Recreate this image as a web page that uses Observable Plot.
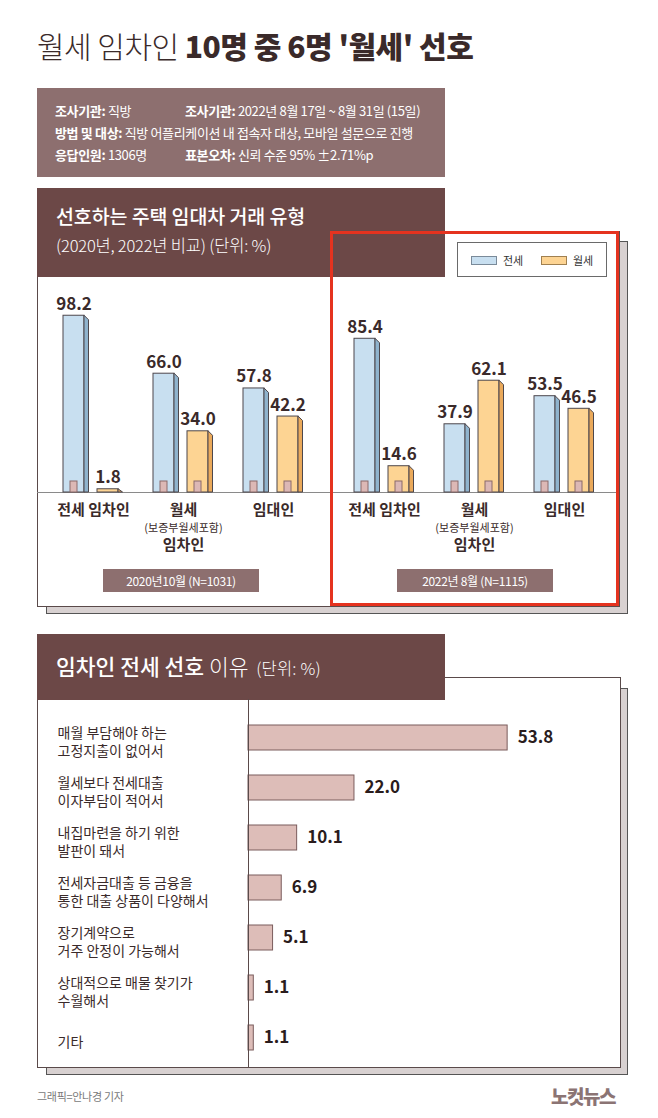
<!DOCTYPE html>
<html><head><meta charset="utf-8">
<script src="https://cdn.jsdelivr.net/npm/d3@7"></script>
<script src="https://cdn.jsdelivr.net/npm/@observablehq/plot@0.6"></script>
<style>
body{margin:0;background:#fff;font-family:"Noto Sans CJK KR","Noto Sans",sans-serif;}
#page{position:relative;width:658px;height:1118px;overflow:hidden;background:#fff;color:#3a2a2a}
.abs{position:absolute;box-sizing:border-box;white-space:nowrap}
.info{color:#fff;font-size:13px;line-height:17px;letter-spacing:-0.35px}
.info b{font-weight:700}
</style></head><body><div id="page"></div>
<script>
// ---------- data ----------
const categories = ["전세 임차인", "월세 임차인", "임대인"];
const catMain = ["전세 임차인", "월세", "임대인"];
const catSub = ["", "(보증부월세포함)", ""];
const catSub2 = ["", "임차인", ""];
const types = ["전세", "월세"];
const years = ["2020", "2022"];
const yearLabels = ["2020년10월 (N=1031)", "2022년 8월 (N=1115)"];
const jeonse2020 = [98.2, 66.0, 57.8];
const wolse2020 = [1.8, 34.0, 42.2];
const jeonse2022 = [85.4, 37.9, 53.5];
const wolse2022 = [14.6, 62.1, 46.5];
const reasons = ["매월 부담해야 하는\n고정지출이 없어서", "월세보다 전세대출\n이자부담이 적어서", "내집마련을 하기 위한\n발판이 돼서", "전세자금대출 등 금융을\n통한 대출 상품이 다양해서", "장기계약으로\n거주 안정이 가능해서", "상대적으로 매물 찾기가\n수월해서", "기타"];
const reasonValues = [53.8, 22.0, 10.1, 6.9, 5.1, 1.1, 1.1];
const infoLeft = [["조사기관:", "직방"], ["방법 및 대상:", "직방 어플리케이션 내 접속자 대상, 모바일 설문으로 진행"], ["응답인원:", "1306명"]];
const infoRight = [["조사기관:", "2022년 8월 17일 ~ 8월 31일 (15일)"], null, ["표본오차:", "신뢰 수준 95% ±2.71%p"]];

// ---------- styles ----------
const C = {
  dark: "#3a2a2a", header: "#6c4847", mauve: "#8d6f6f", red: "#e5331f",
  blue: "#c8dff0", blueSide: "#8fb3cd", orange: "#fdd493", orangeSide: "#eaa95a",
  barStroke: "#4d474c", door: "#dcb8b5", doorStroke: "#8a6a6a",
  bar2: "#ddbdb8", bar2Stroke: "#7a5c5c", shadow: "#d8d1d1", frame: "#5a4a4a"
};
const FONT = '"Noto Sans CJK KR","Noto Sans",sans-serif';
const page = document.getElementById("page");
function box(css, html) {
  const d = document.createElement("div");
  d.className = "abs";
  Object.assign(d.style, css);
  if (html != null) d.innerHTML = html;
  page.appendChild(d);
  return d;
}

// ---------- title ----------
box({left: "37px", top: "27px", fontSize: "30px", lineHeight: "36px", color: C.dark, letterSpacing: "-0.5px"},
  '<span style="font-weight:300">월세 임차인 </span><span style="font-weight:900">10명 중 6명 \'월세\' 선호</span>');

// ---------- info box ----------
box({left: "37px", top: "88px", width: "408px", height: "89px", background: C.mauve});
const lineCenters = [110, 132, 154];
infoLeft.forEach((r, i) => box({left: "55px", top: (lineCenters[i] - 8.5) + "px"}, `<b>${r[0]}</b> ${r[1]}`).classList.add("info"));
infoRight.forEach((r, i) => { if (r) box({left: "185px", top: (lineCenters[i] - 8.5) + "px"}, `<b>${r[0]}</b> ${r[1]}`).classList.add("info"); });

// ---------- chart 1 frames ----------
box({left: "46px", top: "241px", width: "582px", height: "373px", background: C.shadow, border: "1px solid #555"});
box({left: "37px", top: "231px", width: "583px", height: "376px", background: "#fff", border: "1px solid " + C.frame});
box({left: "37px", top: "188px", width: "408px", height: "89px", background: C.header});
box({left: "56px", top: "203px", fontSize: "19.5px", lineHeight: "26px", color: "#fff", fontWeight: 500, letterSpacing: "-0.1px"}, "선호하는 주택 임대차 거래 유형");
box({left: "56px", top: "234px", fontSize: "16.5px", lineHeight: "22px", color: "#fff", fontWeight: 300, letterSpacing: "-0.2px"}, "(2020년, 2022년 비교) (단위: %)");

// ---------- chart 1 data ----------
const rent = [];
[[jeonse2020, wolse2020], [jeonse2022, wolse2022]].forEach(([j, w], yi) => categories.forEach((c, ci) => {
  rent.push({year: years[yi], cat: c, type: types[0], value: j[ci]});
  rent.push({year: years[yi], cat: c, type: types[1], value: w[ci]});
}));
const catLabelData = [];
years.forEach(y => categories.forEach((c, ci) => catLabelData.push({year: y, cat: c, main: catMain[ci], sub: catSub[ci], sub2: catSub2[ci]})));
const subLabelData = catLabelData.filter(d => d.sub);
const jeonseData = rent.filter(d => d.type === types[0]);
const wolseData = rent.filter(d => d.type === types[1]);

const SIDE = 4.5;
const BAR = {
  [types[0]]: {insetLeft: 0, insetRight: 39, fill: C.blue, side: C.blueSide, dx: -19.5},
  [types[1]]: {insetLeft: 34, insetRight: 5, fill: C.orange, side: C.orangeSide, dx: 14.5}
};
function fronts(data, t) {
  const o = BAR[t];
  return Plot.barY(data, {fx: "year", x: "cat", y: "value", insetLeft: o.insetLeft, insetRight: o.insetRight, fill: o.fill, stroke: C.barStroke, strokeWidth: 1});
}
function details(data, t) {
  const o = BAR[t];
  return Plot.barY(data, {
    fx: "year", x: "cat", y: "value", insetLeft: o.insetLeft, insetRight: o.insetRight,
    render(index, scales, values) {
      const bw = scales.x.bandwidth();
      const g = d3.create("svg:g");
      for (const i of index) {
        const x1 = values.x[i] + o.insetLeft;
        const x2 = values.x[i] + bw - o.insetRight;
        const top = Math.min(values.y1[i], values.y2[i]);
        const base = Math.max(values.y1[i], values.y2[i]);
        g.append("path")
          .attr("d", `M${x2},${top}L${x2 + SIDE},${Math.min(top + SIDE, base)}L${x2 + SIDE},${base}L${x2},${base}Z`)
          .attr("fill", o.side).attr("stroke", C.barStroke).attr("stroke-linejoin", "round");
        if (base - top > 16) {
          const cx = (x1 + x2) / 2;
          g.append("rect").attr("x", cx - 3.5).attr("y", base - 11).attr("width", 7).attr("height", 11)
            .attr("fill", C.door).attr("stroke", C.doorStroke);
        }
      }
      return g.node();
    }
  });
}
function values(data, t) {
  return Plot.text(data, {fx: "year", x: "cat", y: "value", text: d => d.value.toFixed(1), dx: BAR[t].dx, dy: -6, lineAnchor: "bottom", fontSize: 17, fontWeight: 700, fill: C.dark});
}

const chart1 = Plot.plot({
  width: 582, height: 280, marginLeft: 0, marginRight: 0, marginTop: 27, marginBottom: 73,
  style: {fontFamily: FONT, background: "transparent", overflow: "visible"},
  fx: {domain: years, padding: 0, axis: null},
  x: {domain: categories, paddingInner: 1 / 3, paddingOuter: 0.283, axis: null},
  y: {domain: [0, 100], axis: null},
  marks: [
    Plot.ruleY([0], {stroke: "#8a8a8a", strokeWidth: 1}),
    fronts(jeonseData, types[0]), details(jeonseData, types[0]),
    fronts(wolseData, types[1]), details(wolseData, types[1]),
    values(jeonseData, types[0]), values(wolseData, types[1]),
    Plot.text(catLabelData, {fx: "year", x: "cat", frameAnchor: "bottom", text: "main", dy: 22, fontSize: 15, fontWeight: 700, fill: C.dark, letterSpacing: "-0.6px"}),
    Plot.text(subLabelData, {fx: "year", x: "cat", frameAnchor: "bottom", text: "sub", dy: 39, fontSize: 11, fill: C.dark, letterSpacing: "-0.4px"}),
    Plot.text(subLabelData, {fx: "year", x: "cat", frameAnchor: "bottom", text: "sub2", dy: 57, fontSize: 15, fontWeight: 700, fill: C.dark, letterSpacing: "-0.6px"})
  ]
});
Object.assign(chart1.style, {position: "absolute", left: "37px", top: "285px"});
page.appendChild(chart1);

// red highlight box + legend
box({left: "330px", top: "231px", width: "289px", height: "375px", border: "3px solid " + C.red});
box({left: "457px", top: "242px", width: "150px", height: "35px", background: "#fff", border: "1px solid #6a6a6a"});
box({left: "471px", top: "256px", width: "26px", height: "9px", background: C.blue, border: "1px solid #7a8a99"});
box({left: "503px", top: "252px", fontSize: "11px", lineHeight: "16px", color: "#333"}, types[0]);
box({left: "541px", top: "256px", width: "26px", height: "9px", background: C.orange, border: "1px solid #a08050"});
box({left: "573px", top: "252px", fontSize: "11px", lineHeight: "16px", color: "#333"}, types[1]);
// period labels
[[103, yearLabels[0]], [397, yearLabels[1]]].forEach(([x, t]) =>
  box({left: x + "px", top: "569px", width: "156px", height: "23px", background: C.mauve, color: "#fff", fontSize: "12px", lineHeight: "23px", textAlign: "center", letterSpacing: "-0.3px"}, t));

// ---------- chart 2 ----------
box({left: "46px", top: "688px", width: "582px", height: "387px", background: C.shadow, border: "1px solid #555"});
box({left: "37px", top: "677px", width: "584px", height: "391px", background: "#fff", border: "1px solid " + C.frame});
box({left: "37px", top: "634px", width: "408px", height: "66px", background: C.header});
box({left: "56px", top: "652px", fontSize: "21.5px", lineHeight: "28px", color: "#fff", letterSpacing: "0px"},
  '<span style="font-weight:500">임차인 전세 선호</span><span style="font-weight:200"> 이유</span><span style="font-size:16.5px;font-weight:300;letter-spacing:0.2px">&nbsp;&nbsp;(단위: %)</span>');

const reasonData = reasons.map((r, i) => ({reason: r, value: reasonValues[i]}));
const chart2 = Plot.plot({
  width: 584, height: 368, marginLeft: 211, marginRight: 84, marginTop: 0, marginBottom: 0,
  style: {fontFamily: FONT, background: "transparent", overflow: "visible"},
  x: {domain: [0, 60], axis: null},
  y: {domain: reasons, paddingInner: 0.505, paddingOuter: 0.396, align: 0.6, axis: null},
  marks: [
    Plot.barX(reasonData, {y: "reason", x: "value", fill: C.bar2, stroke: C.bar2Stroke, strokeWidth: 1}),
    Plot.ruleX([0], {stroke: C.frame, strokeWidth: 1}),
    Plot.text(reasonData, {y: "reason", text: "reason", frameAnchor: "left", textAnchor: "start", dx: -191, dy: 3, fontSize: 14, lineHeight: 1.27, fill: C.dark, letterSpacing: "-0.3px"}),
    Plot.text(reasonData, {y: "reason", x: "value", text: d => d.value.toFixed(1), textAnchor: "start", dx: 10, fontSize: 17, fontWeight: 700, fill: "#2a1c1c"})
  ]
});
Object.assign(chart2.style, {position: "absolute", left: "37px", top: "699px"});
page.appendChild(chart2);

// ---------- footer ----------
box({left: "37px", top: "1088px", fontSize: "11px", lineHeight: "16px", color: "#7a7a7a", letterSpacing: "-0.3px"}, "그래픽=안나경 기자");
box({left: "551px", top: "1084px", fontSize: "19px", lineHeight: "24px", color: "#8b7474", fontWeight: 900, letterSpacing: "-1.5px"}, "노컷뉴스");
</script></body></html>
